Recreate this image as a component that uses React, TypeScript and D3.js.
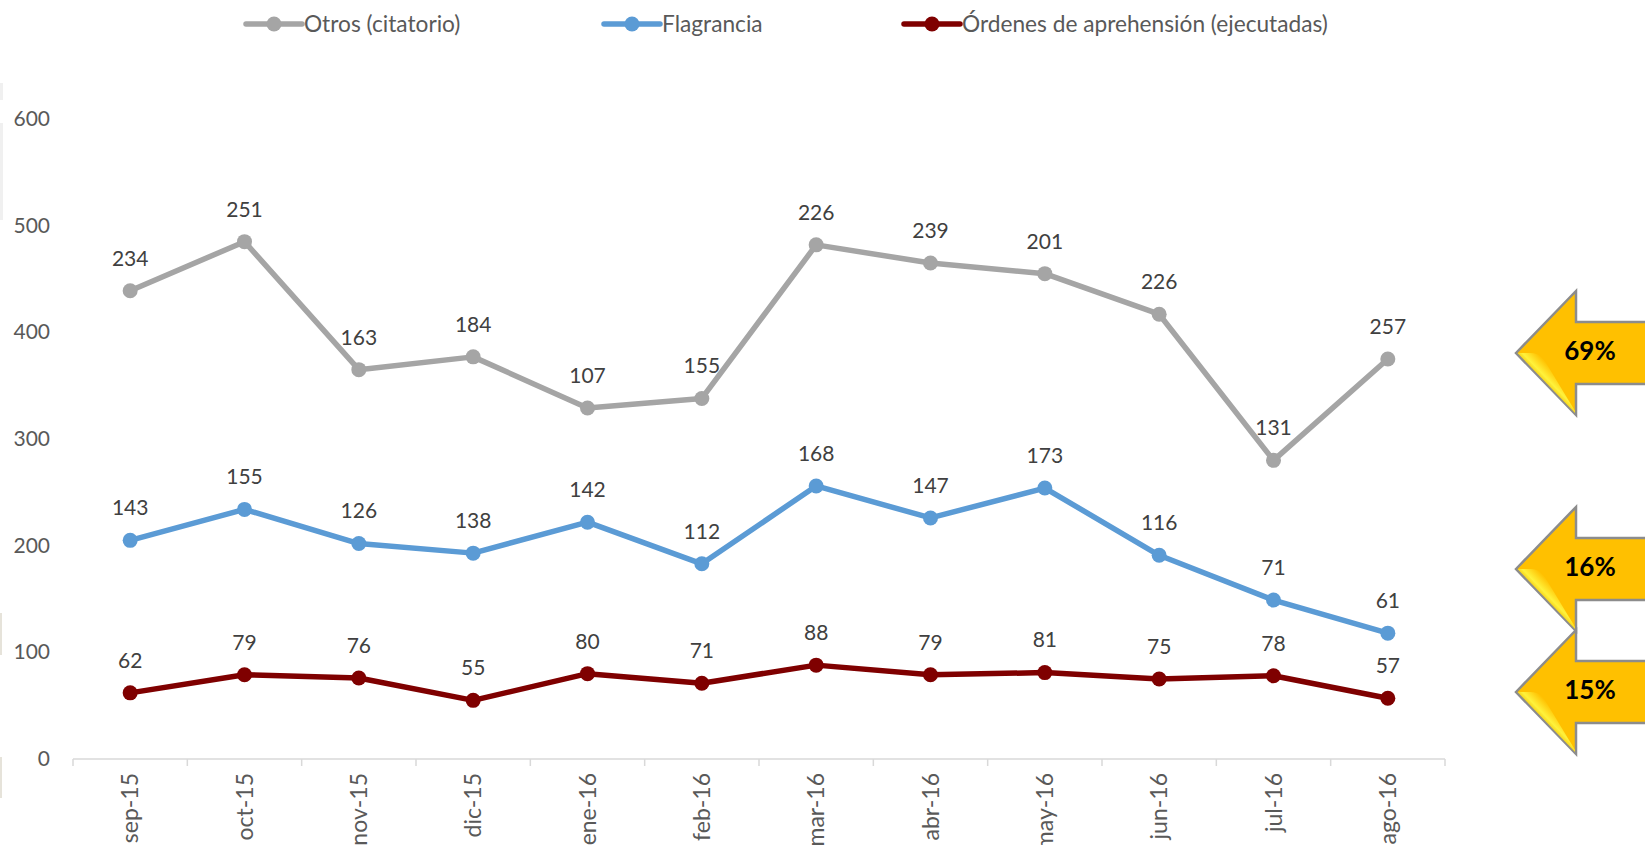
import React from "react";
import * as d3 from "d3";

const months = ["sep-15","oct-15","nov-15","dic-15","ene-16","feb-16","mar-16","abr-16","may-16","jun-16","jul-16","ago-16"];
const ordenes = [62,79,76,55,80,71,88,79,81,75,78,57];
const flagrancia = [143,155,126,138,142,112,168,147,173,116,71,61];
const otros = [234,251,163,184,107,155,226,239,201,226,131,257];
const yTicks = [0,100,200,300,400,500,600];
const shares = [
  { label: "69%", tipY: 353 },
  { label: "16%", tipY: 569 },
  { label: "15%", tipY: 692 },
];
const FONT = "Lato, 'Open Sans', sans-serif";
const seriesMeta = [
  { key: "ordenes", color: "#7F0000", name: "Órdenes de aprehensión (ejecutadas)", legendX: 904 },
  { key: "flagrancia", color: "#5B9BD5", name: "Flagrancia", legendX: 604 },
  { key: "otros", color: "#A5A5A5", name: "Otros (citatorio)", legendX: 246 },
];
const dataRows = months.map((m, i) => ({ m, ordenes: ordenes[i], flagrancia: flagrancia[i], otros: otros[i] }));

export default function App() {
  const x = d3.scaleBand().domain(months).range([73, 1445]);
  const y = d3.scaleLinear().domain([0, 600]).range([759, 119]);
  const stack = d3.stack().keys(seriesMeta.map((s) => s.key))(dataRows as any);
  const cx = (m: string) => x(m)! + x.bandwidth() / 2;
  const line = d3.line<any>().x((d) => cx(d.data.m)).y((d) => y(d[1]));
  const ticksX = [...months.map((m) => x(m)!), 1445];
  return (
    <svg width={1645} height={845} style={{ position: "fixed", left: 0, top: 0, background: "#fff", fontFamily: FONT }}>
      <defs>
        <linearGradient id="bevel" x1="0.33" y1="0.42" x2="0.55" y2="0.2">
          <stop offset="0" stopColor="#EDBB00" />
          <stop offset="0.4" stopColor="#FFF23C" />
          <stop offset="1" stopColor="#FFC000" />
        </linearGradient>
      </defs>
      <rect x={0} y={83} width={3} height={17} fill="#F0F0F0" />
      <rect x={0} y={123} width={3} height={97} fill="#F0F0F0" />
      <rect x={0} y={613} width={2} height={42} fill="#E6E3DA" />
      <rect x={0} y={757} width={2} height={41} fill="#E6E3DA" />

      {/* legend */}
      {seriesMeta.map((s) => (
        <g key={s.key}>
          <line x1={s.legendX} x2={s.legendX + 56} y1={24} y2={24} stroke={s.color} strokeWidth={5.5} strokeLinecap="round" />
          <circle cx={s.legendX + 28} cy={24} r={7.5} fill={s.color} />
          <text x={s.legendX + 58} y={24} dy="0.35em" fontSize={22.7} fill="#595959">{s.name}</text>
        </g>
      ))}

      {/* y axis labels */}
      {yTicks.map((t) => (
        <text key={t} x={50} y={y(t)} dy="0.33em" textAnchor="end" fontSize={21} fill="#595959">{t}</text>
      ))}

      {/* x axis */}
      <line x1={73} x2={1445} y1={y(0)} y2={y(0)} stroke="#D9D9D9" strokeWidth={1.5} />
      {ticksX.map((t, i) => (
        <line key={i} x1={t} x2={t} y1={y(0)} y2={y(0) + 7} stroke="#D9D9D9" strokeWidth={1.5} />
      ))}
      {months.map((m) => (
        <text key={m} transform={`translate(${cx(m)},773) rotate(-90)`} dy="0.35em" textAnchor="end" fontSize={23} fill="#595959">{m}</text>
      ))}

      {/* series */}
      {stack.map((layer: any, si: number) => {
        const s = seriesMeta[si];
        return (
          <g key={s.key}>
            <path d={line(layer)!} fill="none" stroke={s.color} strokeWidth={5.5} strokeLinejoin="round" strokeLinecap="round" />
            {layer.map((d: any) => (
              <circle key={d.data.m} cx={cx(d.data.m)} cy={y(d[1])} r={7.5} fill={s.color} />
            ))}
            {layer.map((d: any) => (
              <text key={d.data.m} x={cx(d.data.m)} y={y(d[1]) - 32.5} dy="0.35em" textAnchor="middle" fontSize={21} fill="#404040">{d[1] - d[0]}</text>
            ))}
          </g>
        );
      })}

      {/* share arrows */}
      {shares.map((a) => {
        const t = a.tipY;
        const outline = `M1516,${t} L1576,${t - 62} L1576,${t - 31} L1650,${t - 31} L1650,${t + 31} L1576,${t + 31} L1576,${t + 62} Z`;
        const bevel = `M1517.5,${t} L1530,${t} Q1538,${t} 1543,${t + 5} L1575,${t + 58} L1575,${t + 60} Z`;
        return (
          <g key={a.label}>
            <path d={outline} fill="#FFC000" stroke="#8C8C8C" strokeWidth={2.5} strokeLinejoin="miter" />
            <path d={bevel} fill="url(#bevel)" />
            <text x={1590} y={t - 2} dy="0.35em" textAnchor="middle" fontSize={26} fontWeight={700} fill="#000">{a.label}</text>
          </g>
        );
      })}
    </svg>
  );
}
